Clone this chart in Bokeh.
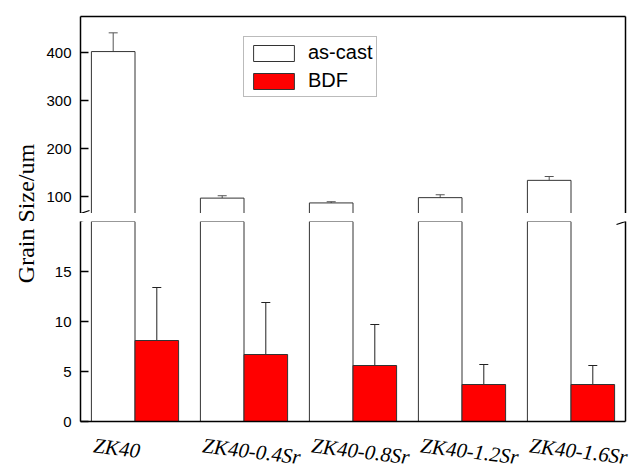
import numpy as np
from bokeh.plotting import figure
from bokeh.models import (ColumnDataSource, Range1d, LinearAxis, FixedTicker, Whisker,
                          TeeHead, Legend, LegendItem, Arrow)
from bokeh.layouts import row, column
from bokeh.embed import file_html
from bokeh.resources import INLINE
from bokeh.core.properties import value

# ---- data ----
categories = ["ZK40", "ZK40-0.4Sr", "ZK40-0.8Sr", "ZK40-1.2Sr", "ZK40-1.6Sr"]
as_cast = [402, 97, 87, 98, 134]
as_cast_err = [39, 5, 2.5, 6, 8]
bdf = [8.1, 6.7, 5.6, 3.7, 3.7]
bdf_err = [5.3, 5.2, 4.1, 2.0, 1.9]
upper_ticks = [100, 200, 300, 400]
lower_ticks = [0, 5, 10, 15]
upper_limits = (65, 475)
lower_limits = (0, 20)
y_title = "Grain Size/um"

# ---- geometry ----
FW = 545
FH_UP = 197
FH_LO = 200
GAP = 8
BAR_W = 0.4
STRIP_H = 39
STRIP_W = 560

xs = np.arange(len(categories))
x_lim = (-0.5, len(categories) - 0.5)
px_per_x = FW / (x_lim[1] - x_lim[0])

src = ColumnDataSource(dict(
    xc=xs - BAR_W / 2, xb=xs + BAR_W / 2, xm=xs.astype(float),
    cast=as_cast, bdf=bdf,
    cast_lo=[v - e for v, e in zip(as_cast, as_cast_err)],
    cast_hi=[v + e for v, e in zip(as_cast, as_cast_err)],
    bdf_lo=[v - e for v, e in zip(bdf, bdf_err)],
    bdf_hi=[v + e for v, e in zip(bdf, bdf_err)],
    cat=categories,
))

TICK_FONT = "Liberation Sans"
AXW = 1.5


def frame_axis():
    return LinearAxis(ticker=FixedTicker(ticks=[]), major_label_text_font_size="0px",
                      major_tick_in=0, major_tick_out=0, minor_tick_in=0, minor_tick_out=0,
                      axis_line_width=AXW, axis_line_color="black", major_label_standoff=0)


def y_axis(ticks):
    return LinearAxis(ticker=FixedTicker(ticks=ticks), major_tick_in=8, major_tick_out=0,
                      minor_tick_in=0, minor_tick_out=0, major_label_standoff=9,
                      axis_line_width=AXW, major_tick_line_width=AXW,
                      major_label_text_font=TICK_FONT, major_label_text_font_size="15px",
                      major_label_text_color="black")


def make_fig(ylim, fh, top, bottom):
    p = figure(frame_width=FW, frame_height=fh, x_range=Range1d(*x_lim),
               y_range=Range1d(*ylim), toolbar_location=None, output_backend="svg",
               x_axis_location=None, y_axis_location=None,
               min_border_left=40, min_border_right=10, min_border_top=top,
               min_border_bottom=bottom, background_fill_color="white",
               border_fill_color="white")
    p.outline_line_color = None
    p.xgrid.visible = False
    p.ygrid.visible = False
    return p


BAR_LINE = "#333333"

# ---- upper segment ----
up = make_fig(upper_limits, FH_UP, 16, 0)
r_cast_up = up.vbar(x="xc", top="cast", bottom=0, width=BAR_W, source=src,
                    fill_color="white", line_color=BAR_LINE, line_width=1)
r_bdf_up = up.vbar(x="xb", top="bdf", bottom=0, width=BAR_W, source=src,
                   fill_color="#FF0000", line_color=BAR_LINE, line_width=1)
up.add_layout(Whisker(source=src, base="xc", upper="cast_hi", lower="cast_lo",
                      line_color="#555555", line_width=1,
                      upper_head=TeeHead(size=9, line_color="#555555", line_width=1),
                      lower_head=TeeHead(size=9, line_color="#555555", line_width=1)))
up.add_layout(y_axis(upper_ticks), "left")
up.add_layout(frame_axis(), "right")
up.add_layout(frame_axis(), "above")

legend = Legend(items=[LegendItem(label="as-cast", renderers=[r_cast_up]),
                       LegendItem(label="BDF", renderers=[r_bdf_up])],
                location=(163, 116), glyph_width=51, glyph_height=20, label_height=20,
                label_standoff=9, spacing=5, padding=4, margin=0,
                label_text_font=TICK_FONT, label_text_font_size="20px",
                label_text_color="black", border_line_color="#777777",
                border_line_width=1, background_fill_color="white")
up.add_layout(legend)

# ---- lower segment ----
lo = make_fig(lower_limits, FH_LO, GAP, 10)
lo.vbar(x="xc", top="cast", bottom=0, width=BAR_W, source=src,
        fill_color="white", line_color=BAR_LINE, line_width=1)
lo.vbar(x="xb", top="bdf", bottom=0, width=BAR_W, source=src,
        fill_color="#FF0000", line_color=BAR_LINE, line_width=1)
lo.add_layout(Whisker(source=src, base="xb", upper="bdf_hi", lower="bdf_lo",
                      line_color="#222222", line_width=1,
                      upper_head=TeeHead(size=9, line_color="#222222", line_width=1),
                      lower_head=TeeHead(size=9, line_color="#222222", line_width=1)))
lo.add_layout(y_axis(lower_ticks), "left")
lo.add_layout(frame_axis(), "right")
lo.add_layout(frame_axis(), "below")

# outward x ticks at each category (8 px below the axis line)
sy_lo = FH_LO / (lower_limits[1] - lower_limits[0])
for xi in xs:
    lo.add_layout(Arrow(start=None, end=None, x_start=float(xi), y_start=lower_limits[0],
                        x_end=float(xi), y_end=lower_limits[0] - 8 / sy_lo,
                        line_color="black", line_width=AXW))

# ---- category strip: slanted italic labels on the same x scale ----
strip = figure(frame_width=STRIP_W, frame_height=STRIP_H,
               x_range=Range1d(x_lim[0], x_lim[0] + STRIP_W / px_per_x),
               y_range=Range1d(STRIP_H, 0), toolbar_location=None, output_backend="svg",
               x_axis_location=None, y_axis_location=None,
               min_border_left=40, min_border_right=0, min_border_top=0,
               min_border_bottom=0, background_fill_color=None, border_fill_color=None)
strip.outline_line_color = None
strip.xgrid.visible = False
strip.ygrid.visible = False
strip.text(x="xm", y=2, text="cat", source=src, x_offset=-40, angle=-0.12,
           text_align="left", text_baseline="top",
           text_font=value("Liberation Serif"), text_font_style="italic",
           text_font_size="21px", text_color="black")


# ---- axis-break marks (decoration, sized in pixels) ----
def break_marks(p, y_edge, fh, ylim):
    sy = fh / (ylim[1] - ylim[0])
    dx, dy = 9 / px_per_x, 3 / sy
    for xe in (x_lim[0], x_lim[1]):
        p.add_layout(Arrow(start=None, end=None, x_start=xe - dx, y_start=y_edge - dy,
                           x_end=xe + dx, y_end=y_edge + dy,
                           line_color="black", line_width=1.2))


break_marks(up, upper_limits[0], FH_UP, upper_limits)
break_marks(lo, lower_limits[1], FH_LO, lower_limits)

# ---- y-axis title (spans both segments) ----
TH = 420
tf = figure(frame_width=40, frame_height=TH, x_range=Range1d(0, 40),
            y_range=Range1d(TH, 0), toolbar_location=None, output_backend="svg",
            min_border=0, x_axis_location=None, y_axis_location=None)
tf.outline_line_color = None
tf.xgrid.visible = False
tf.ygrid.visible = False
tf.text(x=[25], y=[213], text=[y_title], angle=np.pi / 2, text_align="center",
        text_baseline="middle", text_font=value("Liberation Serif"),
        text_font_size="24px", text_color="black")

layout = row(tf, column(up, lo, strip, spacing=0), spacing=0)

open("out.html", "w").write(file_html(layout, INLINE))
